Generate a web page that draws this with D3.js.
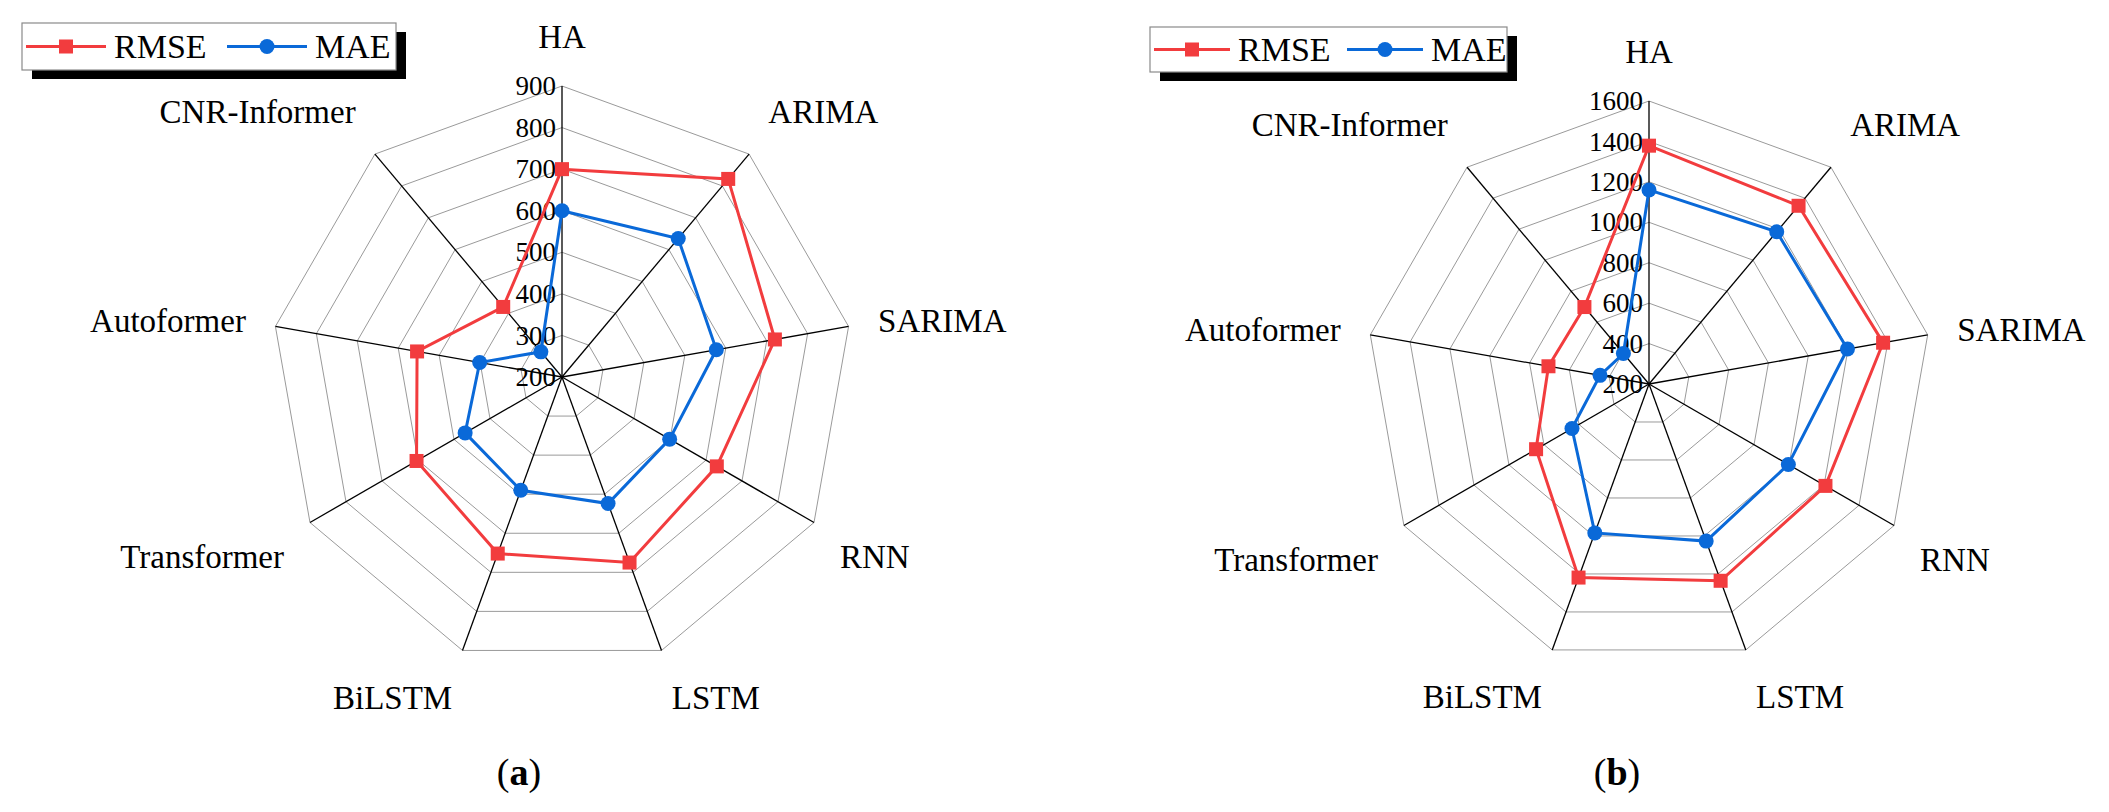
<!DOCTYPE html>
<html>
<head>
<meta charset="utf-8">
<script src="https://cdn.jsdelivr.net/npm/d3@7"></script>
<style>
  body { margin: 0; background: #fff; }
  text { font-family: "Liberation Serif", "Times New Roman", serif; fill: #000; }
</style>
</head>
<body>
<svg id="chart" width="2109" height="812"></svg>
<script>
// models, clockwise from the top
var categories = ["HA", "ARIMA", "SARIMA", "RNN", "LSTM", "BiLSTM", "Transformer", "Autoformer", "CNR-Informer"];

// panel (a)
var ticksA = [200, 300, 400, 500, 600, 700, 800, 900];
var rmseA = [700, 822, 720, 630, 675, 652, 604, 554, 420];
var maeA  = [600, 635, 577, 499, 524, 490, 469, 401, 279];

// panel (b)
var ticksB = [200, 400, 600, 800, 1000, 1200, 1400, 1600];
var rmseB = [1379, 1351, 1376, 1208, 1236, 1219, 845, 705, 697];
var maeB  = [1160, 1183, 1197, 996, 1027, 984, 640, 446, 397];

var red = "#f23c3e", blue = "#0a69d8";

var svg = d3.select("#chart");
svg.append("rect").attr("width", 2109).attr("height", 812).attr("fill", "#fff");

var angle = d3.scalePoint()
    .domain(categories)
    .range([0, 2 * Math.PI * (categories.length - 1) / categories.length]);

function drawRadar(cx, cy, R, ticks, rmse, mae, panel, px) {
  var g = svg.append("g").attr("transform", "translate(" + cx + "," + cy + ")");
  var r = d3.scaleLinear().domain(d3.extent(ticks)).range([0, R]);

  // rings
  var ring = d3.lineRadial()
      .angle(function(d) { return angle(d); })
      .curve(d3.curveLinearClosed);
  g.selectAll(".ring")
    .data(ticks.slice(1))
    .enter().append("path")
      .attr("d", function(t) { return ring.radius(r(t))(categories); })
      .attr("fill", "none")
      .attr("stroke", "#9a9a9a")
      .attr("stroke-width", 1);

  // spokes
  g.selectAll(".spoke")
    .data(categories)
    .enter().append("line")
      .attr("x2", function(d) { return R * Math.sin(angle(d)); })
      .attr("y2", function(d) { return -R * Math.cos(angle(d)); })
      .attr("stroke", "#000")
      .attr("stroke-width", 1.3);

  // tick labels on the HA axis
  g.selectAll(".tick")
    .data(ticks)
    .enter().append("text")
      .attr("x", -6)
      .attr("y", function(t) { return -r(t); })
      .attr("dy", "0.34em")
      .attr("text-anchor", "end")
      .style("font-size", "27px")
      .text(function(t) { return t; });

  // category labels
  g.selectAll(".cat")
    .data(categories)
    .enter().append("text")
      .attr("x", function(d) { return (R + 30) * Math.sin(angle(d)); })
      .attr("y", function(d) {
        var c = Math.cos(angle(d));
        var off = c > 0.5 ? -8 : (c < -0.3 ? 30 : 11);
        return -(R + 30) * c + off;
      })
      .attr("text-anchor", function(d) {
        var s = Math.sin(angle(d));
        return s > 0.1 ? "start" : (s < -0.1 ? "end" : "middle");
      })
      .style("font-size", "33px")
      .text(function(d) { return d; });

  // series
  var line = d3.lineRadial()
      .angle(function(d, i) { return angle(categories[i]); })
      .radius(function(d) { return r(d); })
      .curve(d3.curveLinearClosed);

  function pos(d, i) {
    var a = angle(categories[i]);
    return [r(d) * Math.sin(a), -r(d) * Math.cos(a)];
  }

  g.append("path").datum(rmse)
      .attr("d", line)
      .attr("fill", "none").attr("stroke", red).attr("stroke-width", 3);
  g.selectAll(".sq")
    .data(rmse)
    .enter().append("rect")
      .attr("x", function(d, i) { return pos(d, i)[0] - 7; })
      .attr("y", function(d, i) { return pos(d, i)[1] - 7; })
      .attr("width", 14).attr("height", 14)
      .attr("fill", red);

  g.append("path").datum(mae)
      .attr("d", line)
      .attr("fill", "none").attr("stroke", blue).attr("stroke-width", 3);
  g.selectAll(".dot")
    .data(mae)
    .enter().append("circle")
      .attr("cx", function(d, i) { return pos(d, i)[0]; })
      .attr("cy", function(d, i) { return pos(d, i)[1]; })
      .attr("r", 7.5)
      .attr("fill", blue);

  // panel letter
  var t = svg.append("text")
      .attr("x", px)
      .attr("y", 785)
      .attr("text-anchor", "middle")
      .style("font-size", "38px");
  t.append("tspan").text("(");
  t.append("tspan").style("font-weight", "bold").text(panel);
  t.append("tspan").text(")");
}

// legend box with a drop shadow; len = sample line length, bx = start of the MAE sample
function drawLegend(x, y, w, h, len, bx) {
  var g = svg.append("g").attr("transform", "translate(" + x + "," + y + ")");
  g.append("rect").attr("x", 10).attr("y", 9).attr("width", w).attr("height", h).attr("fill", "#000");
  g.append("rect").attr("width", w).attr("height", h)
      .attr("fill", "#fff").attr("stroke", "#8a8a8a").attr("stroke-width", 1.2);
  var cy = h / 2;
  g.append("line").attr("x1", 4).attr("x2", 4 + len).attr("y1", cy).attr("y2", cy)
      .attr("stroke", red).attr("stroke-width", 3);
  g.append("rect").attr("x", 4 + len / 2 - 7).attr("y", cy - 7).attr("width", 14).attr("height", 14).attr("fill", red);
  g.append("text").attr("x", 4 + len + 8).attr("y", cy + 11).style("font-size", "34px").text("RMSE");
  g.append("line").attr("x1", bx).attr("x2", bx + len).attr("y1", cy).attr("y2", cy)
      .attr("stroke", blue).attr("stroke-width", 3);
  g.append("circle").attr("cx", bx + len / 2).attr("cy", cy).attr("r", 7.5).attr("fill", blue);
  g.append("text").attr("x", bx + len + 8).attr("y", cy + 11).style("font-size", "34px").text("MAE");
}

drawRadar(562, 377, 291, ticksA, rmseA, maeA, "a", 519);
drawRadar(1649, 384, 283, ticksB, rmseB, maeB, "b", 1617);
drawLegend(22, 23, 374, 47, 80, 205);
drawLegend(1150, 27, 357, 45, 76, 197);
</script>
</body>
</html>
